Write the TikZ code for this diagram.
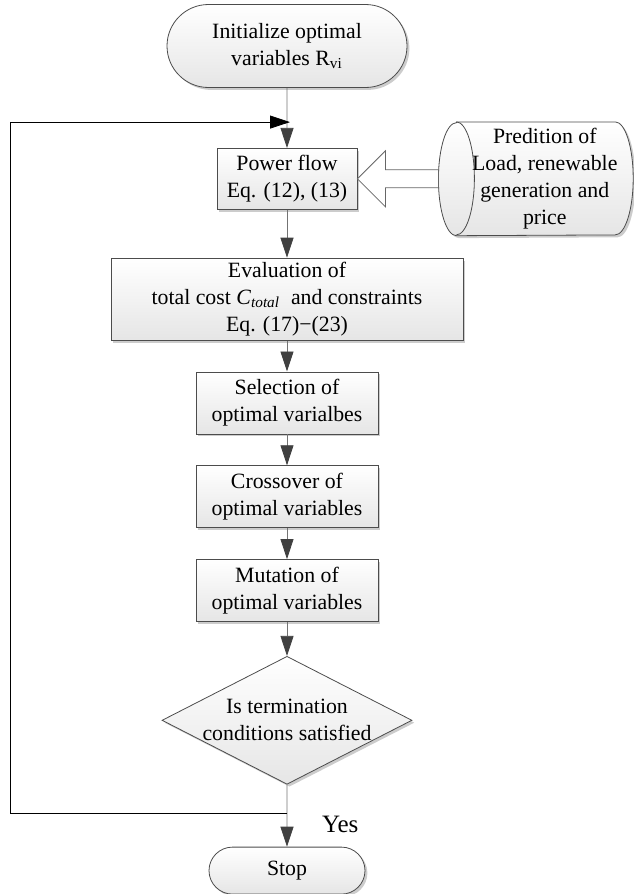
\documentclass[tikz,border=0pt]{standalone}
\usepackage{fontspec}
\setmainfont{Liberation Serif}
\usetikzlibrary{positioning,shapes.geometric,shapes.misc,shadows,arrows.meta,calc}

\begin{document}
\begin{tikzpicture}[x=0.5pt, y=-0.5pt,
        font=\fontsize{10.9}{13.5}\selectfont,
        box/.style={draw=black!70, line width=0.4pt, rectangle, align=center, inner sep=1pt,
            top color=white, bottom color=black!10,
            drop shadow={shadow xshift=1.2pt, shadow yshift=-1.2pt, fill=black!40}},
        stepbox/.style={box, minimum width=91pt, minimum height=31pt},
        terminal/.style={box, rounded rectangle},
        decision/.style={box, diamond, minimum width=125pt, minimum height=64pt, inner sep=0pt},
        storage/.style={draw=black!70, line width=0.4pt, top color=white, bottom color=black!10,
            drop shadow={shadow xshift=1.2pt, shadow yshift=-1.2pt, fill=black!40}},
        face/.style={x radius=9pt, y radius=28.25pt},
        flowline/.style={draw=black!55, -{Triangle[length=10pt, width=6.5pt, color=black!75]}},
        loopline/.style={draw=black, -{Triangle[length=10pt, width=6.5pt]}},
        hollow/.style={draw=black!60, fill=white, line join=miter}]
            \useasboundingbox (0,0) rectangle (633,894);

            \node (start) [terminal, minimum width=122pt, minimum height=41.5pt] at (287,46) {Initialize optimal\\variables R\textsubscript{vi}};
            \node (flow) [box, minimum width=70pt, minimum height=30.5pt, below=30pt of start] {Power flow\\Eq. (12), (13)};
            \node (data) [minimum width=88pt, minimum height=56.5pt, inner sep=0pt, right=49.5pt of flow] {};
            \node (eval) [box, minimum width=176pt, minimum height=41pt, below=24pt of flow] {Evaluation of\\total cost \textit{C}\textsubscript{\textit{total}}\ \ and constraints\\Eq. (17)−(23)};
            \node (select) [stepbox, below=15.5pt of eval] {Selection of\\optimal varialbes};
            \node (cross) [stepbox, below=15.5pt of select] {Crossover of\\optimal variables};
            \node (mutate) [stepbox, below=15.5pt of cross] {Mutation of\\optimal variables};
            \node (check) [decision, below=17pt of mutate] {};
            \node (checktext) [align=center] at (check) {Is termination\\conditions satisfied};
            \node (stop) [terminal, minimum width=80pt, minimum height=23.5pt, below=31pt of check] {Stop};

            \path[storage] (data.north west) -- ($(data.north east)+(-18,0)$) arc[start angle=90, end angle=-90, face]
                -- (data.south west) arc[start angle=270, end angle=90, face] -- cycle;
            \draw[black!70, line width=0.4pt] (data.north west) arc[start angle=90, end angle=-90, face];
            \node (datatext) [align=center] at (data) {Predition of\\Load, renewable\\generation and\\price};

            \coordinate (merge) at ($(start.south)!0.57!(flow.north)$);
            \coordinate (join) at ($(check.south)!0.46!(stop.north)$);
            \coordinate (rail) at (10,0);
            \node (yes) [font=\fontsize{12.5}{15}\selectfont, anchor=west] at ($(join)+(28,11)$) {Yes};

            \draw[flowline] (start) -- (flow);
            \draw[flowline] (flow) -- (eval);
            \draw[flowline] (eval) -- (select);
            \draw[flowline] (select) -- (cross);
            \draw[flowline] (cross) -- (mutate);
            \draw[flowline] (mutate) -- (check);
            \draw[flowline] (check) -- (stop);
            \draw[loopline, shorten >=-1.5pt] (join) -- (join -| rail) |- (merge);
            \draw[hollow] (flow.east) -- ++(28,-28) -- ++(0,19) -- ($(data.west)+(-18,-9)$) -- ($(data.west)+(-18,9)$) -- ($(flow.east)+(28,9)$) -- ++(0,19) -- cycle;
        \end{tikzpicture}
\end{document}
